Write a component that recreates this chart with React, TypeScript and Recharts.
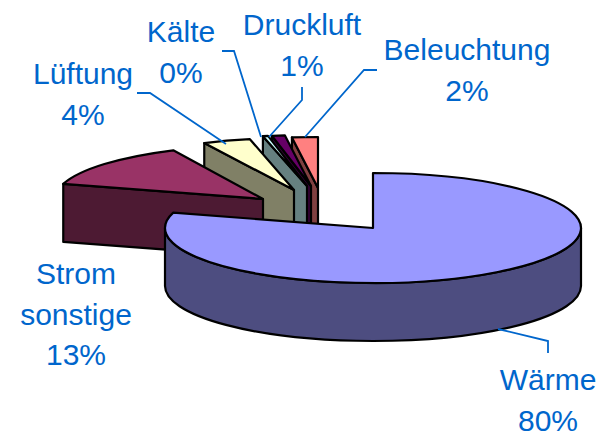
import { PieChart, Pie } from 'recharts';

// Painted back to front, so the list runs counter-clockwise from 12 o'clock
const CATEGORIES = ['Beleuchtung', 'Druckluft', 'Kälte', 'Lüftung', 'Strom sonstige', 'Wärme'];
const VALUES = [2, 1, 0.4, 3.7, 13.4, 79.5];
const PERCENT_LABELS = ['2%', '1%', '0%', '4%', '13%', '80%'];

const TOP_COLORS = ['#ff8080', '#660066', '#ccffff', '#ffffcc', '#993366', '#9999ff'];
const WALL_COLORS = ['#804040', '#330033', '#668080', '#808066', '#4d1a33', '#4d4d80'];

// how far each slice is pulled out of the pie (px, screen space)
const EXPLODE = [
  [-55, -40],
  [-62, -42],
  [-66, -42],
  [-79, -38],
  [-110, -29],
  [0, 0],
];
// vertical radius of each squashed slice
const RADII_Y = [51, 51, 51, 52, 54, 55];

const LABEL_LINES = [
  ['Beleuchtung', '2%'],
  ['Druckluft', '1%'],
  ['Kälte', '0%'],
  ['Lüftung', '4%'],
  ['Strom', 'sonstige', '13%'],
  ['Wärme', '80%'],
];
const LABEL_POS = [
  [467, 60],
  [302, 35],
  [181, 42],
  [83, 84],
  [76, 284],
  [548, 390],
];
const LEADERS = [
  '377,70 364,70 305,137',
  '302,87 302,100 269,137',
  '222,51 234,51 261,137',
  '137,93 150,93 226,144',
  '',
  '498,329 548,341 548,353',
];

const WIDTH = 604;
const HEIGHT = 432;
const RX = 208;
const DEPTH = 58;
const BLUE = '#0066cc';

const data = CATEGORIES.map((name, i) => ({ name, value: VALUES[i], pct: PERCENT_LABELS[i] }));

// squashed 3D slice: wall first, then the lid
function Slice3D(props: any) {
  const { cx, cy, startAngle, endAngle, index } = props;
  const x0 = cx + EXPLODE[index][0];
  const y0 = cy + EXPLODE[index][1];
  const ry = RADII_Y[index];
  const pt = (deg: number) => {
    const r = (deg * Math.PI) / 180;
    return [x0 + RX * Math.cos(r), y0 - ry * Math.sin(r)];
  };
  const a = Math.min(startAngle, endAngle);
  const b = Math.max(startAngle, endAngle);
  const [ax, ay] = pt(a);
  const [bx, by] = pt(b);
  const large = b - a > 180 ? 1 : 0;
  const lid = `M${x0},${y0} L${ax},${ay} A${RX},${ry} 0 ${large} 0 ${bx},${by} Z`;

  const walls: string[] = [];
  // cut face on the side that looks at the viewer
  if (b - a < 180) {
    walls.push(`M${x0},${y0} L${bx},${by} L${bx},${by + DEPTH} L${x0},${y0 + DEPTH} Z`);
  }
  // rim, only the front half of the ellipse shows
  const from = Math.max(a, 180);
  const to = Math.min(b, 360);
  if (to > from) {
    const [fx, fy] = pt(from);
    const [tx, ty] = pt(to);
    walls.push(
      `M${fx},${fy} A${RX},${ry} 0 0 0 ${tx},${ty} L${tx},${ty + DEPTH} A${RX},${ry} 0 0 1 ${fx},${fy + DEPTH} Z`,
    );
  }

  return (
    <g>
      {walls.map((d, i) => (
        <path key={i} d={d} fill={WALL_COLORS[index]} stroke="#000" strokeWidth={2.2} strokeLinejoin="round" />
      ))}
      <path d={lid} fill={TOP_COLORS[index]} stroke="#000" strokeWidth={2.2} strokeLinejoin="round" />
    </g>
  );
}

function SliceLabel(props: any) {
  const { index } = props;
  const [x, y] = LABEL_POS[index];
  return (
    <g>
      {LEADERS[index] && <polyline points={LEADERS[index]} fill="none" stroke={BLUE} strokeWidth={1.8} />}
      <text x={x} y={y} textAnchor="middle" fill={BLUE} fontSize={30} fontFamily="Liberation Sans, Arial, sans-serif">
        {LABEL_LINES[index].map((line, i) => (
          <tspan key={i} x={x} y={y + i * 40.5}>
            {line}
          </tspan>
        ))}
      </text>
    </g>
  );
}

export default function App() {
  return (
    <div style={{ position: 'absolute', left: 0, top: 0, width: WIDTH, height: HEIGHT, background: '#fff' }}>
      <PieChart width={WIDTH} height={HEIGHT} margin={{ top: 0, right: 0, bottom: 0, left: 0 }}>
        <Pie
          data={data}
          dataKey="value"
          nameKey="name"
          cx={373}
          cy={228}
          outerRadius={RX}
          startAngle={90}
          endAngle={450}
          shape={Slice3D}
          label={SliceLabel}
          labelLine={false}
          isAnimationActive={false}
        />
      </PieChart>
    </div>
  );
}
